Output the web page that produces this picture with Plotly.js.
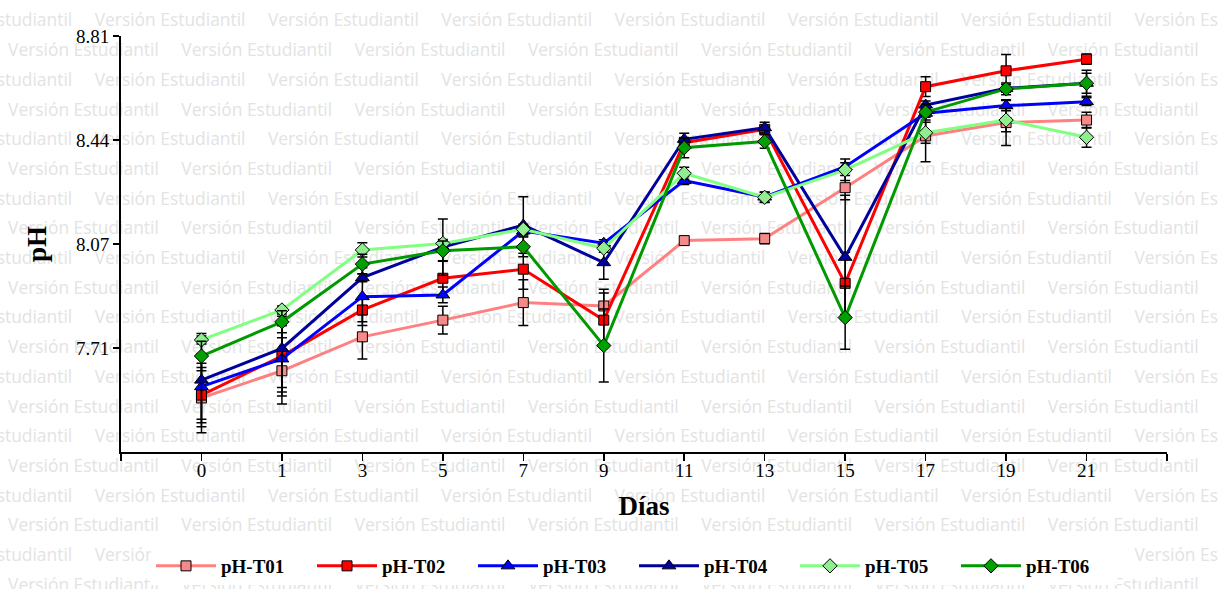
<!DOCTYPE html>
<html><head><meta charset="utf-8">
<script src="https://cdn.plot.ly/plotly-3.0.1.min.js"></script>
<style>
html,body{margin:0;padding:0;background:#fff;}
#wrap{position:relative;width:1218px;height:589px;overflow:hidden;}
#wm{position:absolute;left:0;top:0;width:1218px;height:589px;z-index:0;}
#wm span{position:absolute;white-space:nowrap;color:#e3e3e3;font-family:'Open Sans';line-height:1;}
#chart{position:absolute;left:0;top:0;width:1218px;height:589px;z-index:1;}
</style></head><body>
<div id="wrap"><div id="wm"></div><div id="chart"></div></div>
<script>
// ---- data ----
const days = ['0','1','3','5','7','9','11','13','15','17','19','21'];
const seriesNames = ['pH-T01','pH-T02','pH-T03','pH-T04','pH-T05','pH-T06'];
const T01 = [7.531,7.627,7.747,7.806,7.868,7.856,8.087,8.094,8.274,8.457,8.504,8.513];
const T02 = [7.541,7.679,7.842,7.954,7.986,7.806,8.433,8.480,7.936,8.631,8.687,8.728];
const T03 = [7.571,7.669,7.889,7.895,8.121,8.078,8.299,8.241,8.348,8.537,8.564,8.578];
const T04 = [7.594,7.706,7.956,8.064,8.142,8.009,8.445,8.486,8.028,8.566,8.625,8.643];
const T05 = [7.736,7.842,8.054,8.077,8.127,8.060,8.325,8.240,8.337,8.468,8.513,8.452];
const T06 = [7.679,7.800,8.004,8.051,8.065,7.716,8.415,8.437,7.815,8.541,8.623,8.643];
const E01 = [0.123,0.117,0.078,0.049,0.081,0.059,0.014,0.018,0.043,0.091,0.081,0.028];
const E02 = [0.098,0.141,0.042,0.060,0.071,0.096,0.018,0.014,0.110,0.035,0.058,0.018];
const E03 = [0.115,0.117,0.102,0.028,0.018,0.012,0.014,0.018,0.014,0.014,0.018,0.014];
const E04 = [0.165,0.138,0.014,0.099,0.100,0.059,0.021,0.019,0.219,0.014,0.014,0.046];
const E05 = [0.014,0.014,0.025,0.014,0.018,0.014,0.021,0.018,0.038,0.037,0.041,0.035];
const E06 = [0.052,0.039,0.035,0.035,0.035,0.129,0.035,0.024,0.112,0.028,0.021,0.035];
const yTickVals = [7.7075, 8.075, 8.4425, 8.81];
const yTickText = ['7.71','8.07','8.44','8.81'];
const watermarkText = 'Versión Estudiantil';

// ---- watermark (background text) ----
(function(){
  const c = document.createElement('canvas').getContext('2d');
  c.font = "100px 'Open Sans'";
  const w = c.measureText(watermarkText).width;
  const fs = 100 * 151 / w;
  const wm = document.getElementById('wm');
  const period = 173.3;
  for (let r = 0; r < 20; r++) {
    const cy = 21 + 29.7 * r;
    const x0 = (r % 2 === 0) ? 8 - 86.65 : 8;
    for (let x = x0; x < 1218; x += period) {
      const s = document.createElement('span');
      s.textContent = watermarkText;
      s.style.fontSize = fs + 'px';
      s.style.left = x + 'px';
      s.style.top = (cy - fs * 0.55) + 'px';
      wm.appendChild(s);
    }
  }
})();

// ---- chart ----
const idx = days.map((d, i) => i);
const vals = [T01,T02,T03,T04,T05,T06];
const errs = [E01,E02,E03,E04,E05,E06];
const lineColors = ['#ff8080','#ff0000','#0000ff','#00009c','#80ff80','#009900'];
const markColors = ['#f58a8a','#ff0000','#0000ff','#00009c','#90ee90','#00a000'];
const symbols = ['square','square','triangle-up','triangle-up','diamond','diamond'];
const sizes = [10,10,12,12,11,11];

const traces = vals.map((v, k) => ({
  type: 'scatter', mode: 'lines+markers', name: seriesNames[k],
  x: idx, y: v,
  line: {color: lineColors[k], width: 3},
  marker: {symbol: symbols[k], size: sizes[k], color: markColors[k], line: {color: '#000', width: 1}},
  error_y: {type: 'data', array: errs[k], visible: true, color: '#000', thickness: 1.5, width: 5}
}));

const serif = 'Liberation Serif, Times New Roman, serif';
const layout = {
  width: 1218, height: 589,
  margin: {l: 121, r: 51, t: 36, b: 137},
  paper_bgcolor: 'rgba(0,0,0,0)', plot_bgcolor: 'rgba(0,0,0,0)',
  showlegend: true,
  xaxis: {
    range: [-1, 12], showgrid: false, zeroline: false,
    showline: true, linecolor: '#000', linewidth: 2,
    ticks: 'outside', ticklen: 7, tickwidth: 1.5, tickcolor: '#000',
    tickmode: 'array', tickvals: [-1].concat(idx, [12]), ticktext: [''].concat(days, ['']),
    tickfont: {family: serif, size: 19, color: '#000'},
    ticklabelstandoff: -7,
    title: {text: 'Días', font: {family: serif, size: 27, color: '#000', weight: 'bold'}, standoff: 16}
  },
  yaxis: {
    range: [7.34, 8.81], showgrid: false, zeroline: false,
    showline: true, linecolor: '#000', linewidth: 2,
    ticks: 'outside', ticklen: 6, tickwidth: 1.5, tickcolor: '#000',
    tickmode: 'array', tickvals: yTickVals, ticktext: yTickText,
    tickfont: {family: serif, size: 19, color: '#000'},
    title: {text: 'pH', font: {family: serif, size: 27, color: '#000', weight: 'bold'}, standoff: 22}
  },
  legend: {
    orientation: 'h', xref: 'container', yref: 'container',
    x: 634/1218, xanchor: 'center', y: 1 - 547/589, yanchor: 'top',
    bgcolor: '#ffffff', borderwidth: 0,
    entrywidth: 86, entrywidthmode: 'pixels', itemwidth: 60,
    font: {family: serif, size: 19, color: '#000', weight: 'bold'},
    traceorder: 'normal'
  }
};
Plotly.newPlot('chart', traces, layout, {displayModeBar: false, staticPlot: true});
</script>
</body></html>
